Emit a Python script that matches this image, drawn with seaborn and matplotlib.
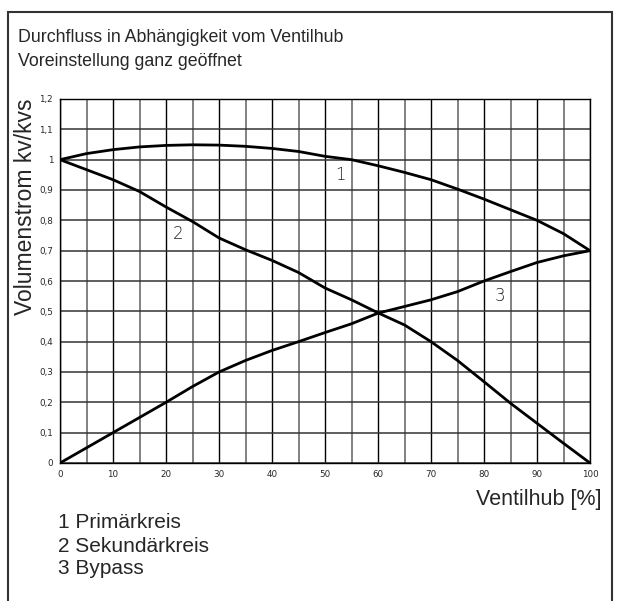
import numpy as np
import pandas as pd
import matplotlib
matplotlib.use("Agg")
import matplotlib.pyplot as plt
import seaborn as sns
from matplotlib.patches import Rectangle

# Ventilhub in %
hub = [0, 5, 10, 15, 20, 25, 30, 35, 40, 45, 50, 55, 60, 65, 70, 75, 80, 85, 90, 95, 100]
# 1 Primärkreis
primaer = [1.0, 1.02, 1.033, 1.042, 1.047, 1.049, 1.048, 1.044, 1.037, 1.027, 1.011,
           1.0, 0.98, 0.958, 0.934, 0.903, 0.87, 0.835, 0.80, 0.756, 0.70]
# 2 Sekundärkreis
sekundaer = [1.0, 0.967, 0.934, 0.895, 0.844, 0.796, 0.742, 0.703, 0.668, 0.628, 0.577,
             0.538, 0.495, 0.455, 0.40, 0.338, 0.268, 0.197, 0.131, 0.065, 0.0]
# 3 Bypass
bypass = [0.0, 0.05, 0.10, 0.15, 0.20, 0.252, 0.30, 0.338, 0.371, 0.40, 0.43,
          0.459, 0.494, 0.516, 0.538, 0.565, 0.60, 0.631, 0.661, 0.683, 0.70]

x_ticks = [0, 10, 20, 30, 40, 50, 60, 70, 80, 90, 100]
y_ticks = [0, 0.1, 0.2, 0.3, 0.4, 0.5, 0.6, 0.7, 0.8, 0.9, 1.0, 1.1, 1.2]
y_ticklabels = ["0", "0,1", "0,2", "0,3", "0,4", "0,5", "0,6", "0,7", "0,8", "0,9", "1", "1,1", "1,2"]

# Kurvenbeschriftung: (Nummer, x, y)
curve_labels = [("1", 53, 0.95), ("2", 22.3, 0.755), ("3", 83, 0.55)]
legend_lines = ["1 Primärkreis", "2 Sekundärkreis", "3 Bypass"]

df = pd.DataFrame({"hub": hub, "Primärkreis": primaer,
                   "Sekundärkreis": sekundaer, "Bypass": bypass})
long_df = df.melt(id_vars="hub", var_name="Kreis", value_name="kv")

sns.set_style("white")
plt.rcParams["font.family"] = ["Liberation Sans", "DejaVu Sans"]

fig = plt.figure(figsize=(6.22, 6.01), dpi=100)
ax = fig.add_axes([60 / 622, 138 / 601, 530 / 622, 364 / 601])

# Rahmen
fig.patches.append(Rectangle((8 / 622, -0.01), 604 / 622, (589 / 601) + 0.01,
                             transform=fig.transFigure, fill=False,
                             edgecolor="#333333", linewidth=1.5))

# Gitter
for xv in np.arange(0, 101, 5):
    ax.axvline(xv, color="black" if xv % 10 == 0 else "#777777",
               lw=1.0 if xv % 10 == 0 else 1.3, zorder=1)
for yv in y_ticks:
    ax.axhline(yv, color="#333333", lw=1.1, zorder=1)

sns.lineplot(data=long_df, x="hub", y="kv", units="Kreis", estimator=None,
             color="black", linewidth=2.0, ax=ax, zorder=3)

ax.set_xlim(0, 100)
ax.set_ylim(0, 1.2)
ax.set_xticks(x_ticks)
ax.set_xticklabels([str(v) for v in x_ticks], family="DejaVu Sans", fontsize=6.3)
ax.set_yticks(y_ticks)
ax.set_yticklabels(y_ticklabels, family="DejaVu Sans", fontsize=6.3)
ax.tick_params(length=0, pad=5)
for s in ax.spines.values():
    s.set_color("black")
    s.set_linewidth(1.0)

ax.set_xlabel("")
ax.set_ylabel("")

for num, cx, cy in curve_labels:
    ax.text(cx, cy, num, fontsize=12, color="#222222", ha="center", va="center",
            family="DejaVu Sans", fontweight="light", zorder=4)

fig.text(18 / 622, 1 - 38 / 601, "Durchfluss in Abhängigkeit vom Ventilhub",
         fontsize=12.8, va="center", ha="left")
fig.text(18 / 622, 1 - 62 / 601, "Voreinstellung ganz geöffnet",
         fontsize=12.8, va="center", ha="left")
fig.text(26 / 622, 1 - 207 / 601, "Volumenstrom kv/kvs", rotation=90,
         fontsize=16.5, va="center", ha="center")
fig.text(602 / 622, 1 - 500 / 601, "Ventilhub [%]", fontsize=15.5,
         va="center", ha="right")
for i, line in enumerate(legend_lines):
    fig.text(58 / 622, 1 - (523 + 23 * i) / 601, line, fontsize=15,
             va="center", ha="left")

fig.savefig("out.png", dpi=100)
